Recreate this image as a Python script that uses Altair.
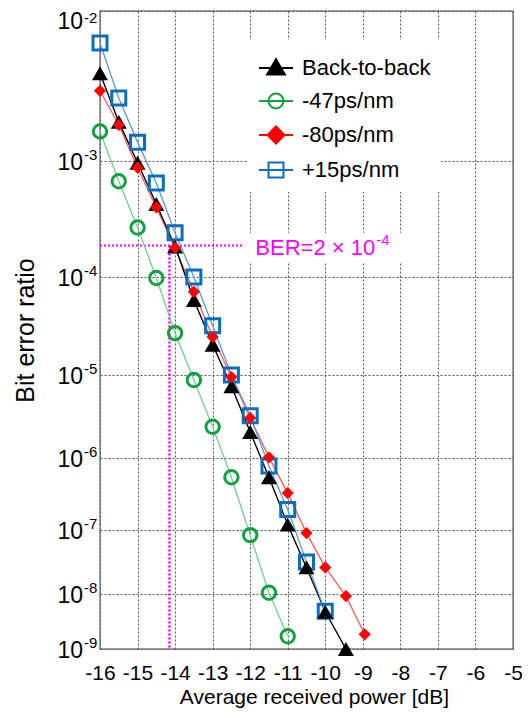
import altair as alt
import pandas as pd

# ---------------- data ----------------
series_names = ["Back-to-back", "-47ps/nm", "-80ps/nm", "+15ps/nm"]

b2b_power = [-16, -15.5, -15, -14.5, -14, -13.5, -13, -12.5, -12, -11.5, -11, -10.5, -10, -9.45]
b2b_ber = [4.3e-3, 2.0e-3, 9.7e-4, 4.6e-4, 1.95e-4, 6.1e-5, 2.15e-5, 7.5e-6, 2.15e-6,
           5.6e-7, 1.2e-7, 2.7e-8, 4.9e-9, 1.0e-9]

n47_power = [-16, -15.5, -15, -14.5, -14, -13.5, -13, -12.5, -12, -11.5, -11]
n47_ber = [1.7e-3, 7.0e-4, 2.9e-4, 9.8e-5, 2.85e-5, 8.8e-6, 2.5e-6, 5.6e-7, 8.4e-8,
           1.05e-8, 1.75e-9]

n80_power = [-16, -15.5, -15, -14.5, -14, -13.5, -13, -12.5, -12, -11.5, -11, -10.5,
             -10, -9.45, -8.95]
n80_ber = [3.3e-3, 1.9e-3, 8.9e-4, 4.3e-4, 1.9e-4, 7.3e-5, 2.6e-5, 9.5e-6, 3.2e-6,
           1.02e-6, 3.4e-7, 9.0e-8, 2.7e-8, 9.2e-9, 1.9e-9]

p15_power = [-16, -15.5, -15, -14.5, -14, -13.5, -13, -12.5, -12, -11.5, -11, -10.5, -10]
p15_ber = [6.6e-3, 2.95e-3, 1.41e-3, 6.8e-4, 2.6e-4, 1.0e-4, 3.4e-5, 1.0e-5, 3.4e-6,
           7.9e-7, 2.0e-7, 3.3e-8, 5.0e-9]

x_ticks = [-16, -15, -14, -13, -12, -11, -10, -9, -8, -7, -6, -5]
y_exponents = [-2, -3, -4, -5, -6, -7, -8, -9]

ber_ref = 2e-4            # BER=2x10^-4 reference level
ref_power = -14.15        # received power at the reference level
ref_line_end = -12.2      # end of the horizontal dotted line
ref_label_power = -8.67   # label anchor (end of "10")
ref_box_power = [-12.2, -7.9]      # white box behind the label
ref_box_ber = [2.6e-4, 1.4e-4]
ber_floor = 1e-9

# ---------------- styling ----------------
FONT = "Liberation Sans, Arial, sans-serif"
MAGENTA = "#ff00ff"
W, H = 413, 638
# pixel position of each decade (10^-2 ... 10^-9) on the BER-scaled axis
DECADE_PX = [0, 150, 266, 364, 447, 519, 583, 638]

T_EXPR = "-log(datum.ber) / LN10"

x_enc = alt.X(
    "power:Q",
    scale=alt.Scale(domain=[-16, -5], nice=False, zero=False),
    axis=alt.Axis(
        values=x_ticks,
        labelExpr="(datum.value < 0 ? '-' : '') + abs(datum.value)",
        labelPadding=13,
        titlePadding=3,
        titleX=214,
        labelOverlap=False,
        labelFlush=False,
        grid=True,
        title="Average received power [dB]",
    ),
)

y_scale = alt.Scale(
    type="log",
    domain=[-e for e in y_exponents],
    range=DECADE_PX,
    nice=False,
    zero=False,
)


def y_enc(field="t"):
    return alt.Y(
        f"{field}:Q",
        scale=y_scale,
        axis=alt.Axis(
            values=[-e for e in y_exponents],
            labels=False,
            ticks=False,
            grid=True,
            title="Bit error ratio",
            titlePadding=62,
            titleFontSize=25,
        ),
    )


def frame(power, ber, name):
    return pd.DataFrame({"power": power, "ber": ber, "series": name})


df_b2b = frame(b2b_power, b2b_ber, series_names[0])
df_47 = frame(n47_power, n47_ber, series_names[1])
df_80 = frame(n80_power, n80_ber, series_names[2])
df_15 = frame(p15_power, p15_ber, series_names[3])


def line(df, color, width=1.3):
    return (
        alt.Chart(df)
        .transform_calculate(t=T_EXPR)
        .mark_line(color=color, strokeWidth=width)
        .encode(x=x_enc, y=y_enc())
    )


def points(df, **mark):
    return (
        alt.Chart(df)
        .transform_calculate(t=T_EXPR)
        .mark_point(opacity=1, **mark)
        .encode(x=x_enc, y=y_enc())
    )


lines = [
    line(df_47, "#6fcf8f"),
    line(df_80, "#ff5a5a"),
    line(df_b2b, "#000000", 1.4),
    line(df_15, "#5b9bd5"),
]

marks = [
    points(df_15, shape="square", filled=False, color="#0a6ebd", strokeWidth=3, size=196),
    points(df_47, shape="circle", filled=False, color="#12a040", strokeWidth=3, size=180),
    points(df_b2b, shape="triangle-up", filled=True, color="#000000", size=256),
    points(df_80, shape="diamond", filled=True, color="#ff0000", size=150),
]

# ---------------- reference level annotation ----------------
ref_h = pd.DataFrame({"power": [-16], "power2": [ref_line_end], "ber": [ber_ref]})
ref_v = pd.DataFrame({"power": [ref_power], "ber": [ber_ref], "ber2": [ber_floor]})
ref_lab = pd.DataFrame({"power": [ref_label_power], "ber": [ber_ref]})
ref_box = pd.DataFrame({"power": [ref_box_power[0]], "power2": [ref_box_power[1]],
                        "ber": [ref_box_ber[0]], "ber2": [ref_box_ber[1]]})

ref_box_rect = (
    alt.Chart(ref_box)
    .transform_calculate(t=T_EXPR, t2="-log(datum.ber2) / LN10")
    .mark_rect(color="white")
    .encode(x=x_enc, x2="power2:Q", y=y_enc(), y2="t2:Q")
)
ref_h_rule = (
    alt.Chart(ref_h)
    .transform_calculate(t=T_EXPR)
    .mark_rule(color=MAGENTA, strokeDash=[2, 2], strokeWidth=2)
    .encode(x=x_enc, x2="power2:Q", y=y_enc())
)
ref_v_rule = (
    alt.Chart(ref_v)
    .transform_calculate(t=T_EXPR, t2="-log(datum.ber2) / LN10")
    .mark_rule(color=MAGENTA, strokeDash=[2, 2], strokeWidth=2.5)
    .encode(x=x_enc, y=y_enc(), y2="t2:Q")
)
ref_text = (
    alt.Chart(ref_lab)
    .transform_calculate(t=T_EXPR)
    .mark_text(align="right", baseline="middle", font=FONT, fontSize=22,
               color=MAGENTA, dy=3)
    .encode(x=x_enc, y=y_enc(), text=alt.value("BER=2 \u00d7 10"))
)
ref_sup = (
    alt.Chart(ref_lab)
    .transform_calculate(t=T_EXPR)
    .mark_text(align="left", baseline="middle", font=FONT, fontSize=15,
               color=MAGENTA, dy=-5, dx=1)
    .encode(x=x_enc, y=y_enc(), text=alt.value("-4"))
)

# ---------------- y tick labels 10^n ----------------
ylab = pd.DataFrame({"exp": y_exponents})
ylab_base = alt.Chart(ylab).transform_calculate(t="-datum.exp", lab="'' + datum.exp")
ylab_mid = ylab_base.transform_filter("datum.exp < -2")
ylab_top = ylab_base.transform_filter("datum.exp == -2")


def ten(base, dy):
    return base.mark_text(
        align="right", baseline="middle", font=FONT, fontSize=23, color="black", dy=dy
    ).encode(y=y_enc(), x=alt.value(-17), text=alt.value("10"))


def sup(base, dy):
    return base.mark_text(
        align="left", baseline="middle", font=FONT, fontSize=15, color="black", dy=dy
    ).encode(y=y_enc(), x=alt.value(-16), text="lab:N")


ylab_layers = [ten(ylab_mid, 2), sup(ylab_mid, -6), ten(ylab_top, 11), sup(ylab_top, 7)]

# ---------------- legend ----------------
LEG_PATHS = [
    "M-1,0H1M0,-0.52L0.52,0.38L-0.52,0.38Z",
    "M-1,0H1M0.44,0A0.44,0.44 0 1,1 -0.44,0A0.44,0.44 0 1,1 0.44,0",
    "M-1,0H1M-0.5,0L0,-0.5L0.5,0L0,0.5Z",
    "M-1,0H1M-0.44,-0.44H0.44V0.44H-0.44Z",
]
leg_df = pd.DataFrame({"series": series_names})
legend_layer = (
    alt.Chart(leg_df)
    .mark_point(opacity=0)
    .encode(
        shape=alt.Shape("series:N", scale=alt.Scale(domain=series_names, range=LEG_PATHS),
                        legend=alt.Legend(title=None)),
        fill=alt.Fill("series:N",
                      scale=alt.Scale(domain=series_names,
                                      range=["#000000", "transparent", "#ff0000", "transparent"]),
                      legend=alt.Legend(title=None)),
        stroke=alt.Stroke("series:N",
                          scale=alt.Scale(domain=series_names,
                                          range=["#000000", "#12a040", "#ff0000", "#0a6ebd"]),
                          legend=alt.Legend(title=None)),
    )
)

chart = (
    alt.layer(
        ref_box_rect, ref_h_rule, ref_v_rule, *lines, *marks, ref_text, ref_sup,
        *ylab_layers, legend_layer,
    )
    .properties(
        width=W,
        height=H,
        padding={"left": 92, "top": 3, "right": 9, "bottom": 59},
        autosize=alt.AutoSizeParams(type="none"),
        background="white",
    )
    .configure_view(stroke="#808080", strokeWidth=1.5)
    .configure_axis(
        gridColor="#555555",
        gridDash=[2, 2],
        gridWidth=1,
        domain=False,
        ticks=False,
        labelFont=FONT,
        titleFont=FONT,
        labelFontSize=21,
        titleFontSize=21,
        labelColor="black",
        titleColor="black",
        titleFontWeight="normal",
    )
    .configure_legend(
        orient="none",
        legendX=148,
        legendY=29,
        direction="vertical",
        padding=10,
        fillColor="white",
        rowPadding=4,
        symbolSize=1156,
        symbolStrokeWidth=2,
        symbolOpacity=1,
        labelFont=FONT,
        labelFontSize=22,
        labelColor="black",
        labelOffset=8,
        labelLimit=300,
    )
)

chart.save("out.html", embed_options={"renderer": "svg", "actions": False})
